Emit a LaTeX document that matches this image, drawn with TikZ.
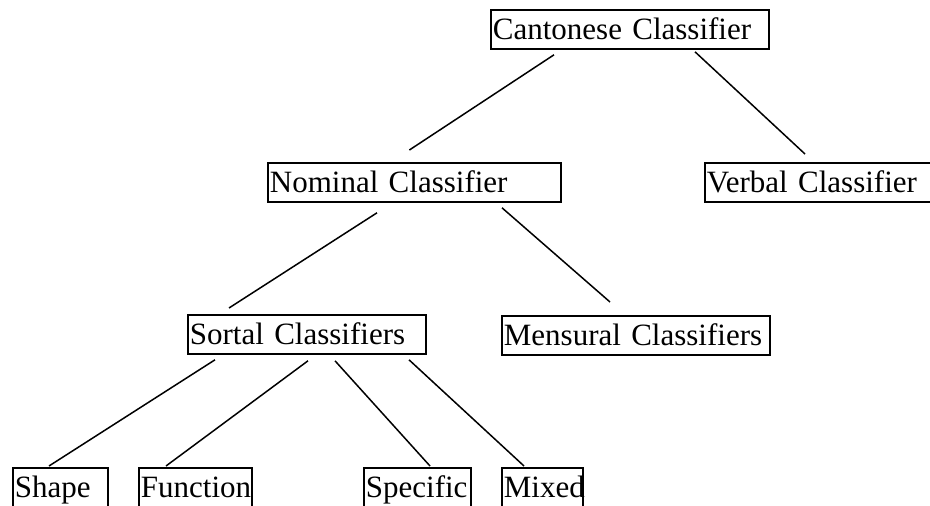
\documentclass[tikz,border=0pt]{standalone}
\usepackage{fontspec}
\setmainfont{Liberation Serif}
\usetikzlibrary{positioning, calc}

\begin{document}
\begin{tikzpicture}[x=1pt, y=-1pt, category/.style={draw, line width=1.8pt, anchor=north west, align=left, inner xsep=2pt, inner ysep=0pt, text height=30pt, text depth=9pt, font=\fontsize{31}{31}\selectfont}, link/.style={line width=1.5pt}]

\newcommand*{\catnode}[5][]{\node [category, #1, text width=#5pt] at (#3,#4) (#2)}

\useasboundingbox (0,0) rectangle (930,506);
\clip (0,0) rectangle (930,506);

% CATEGORIES

\catnode{can}{490}{9}{274}
{Cantonese Classifier};

\catnode{nom}{267}{162}{289}
{Nominal Classifier};

\catnode{verb}{704}{162}{232}
{Verbal Classifier};

\catnode{sort}{187}{314}{234}
{Sortal Classifiers};

\catnode{mens}{501}{315}{264}
{Mensural Classifiers};

\catnode[text depth=12pt]{shape}{12}{467}{91}
{Shape};

\catnode[text depth=12pt]{func}{138}{467}{109}
{Function};

\catnode[text depth=12pt]{spec}{363}{467}{103}
{Specific};

\catnode[text depth=12pt]{mixed}{501}{467}{77}
{Mixed};

% LINKS

\draw[link] ([xshift=64pt,yshift=-5pt]can.south west) -- ([xshift=-5pt,yshift=12pt]nom.north);
\draw[link] ([xshift=205pt,yshift=-2pt]can.south west) -- ([xshift=101pt,yshift=8pt]verb.north west);
\draw[link] ([xshift=110pt,yshift=-10pt]nom.south west) -- ([xshift=42pt,yshift=6pt]sort.north west);
\draw[link] ([xshift=235pt,yshift=-5pt]nom.south west) -- ([xshift=109pt,yshift=13pt]mens.north west);
\draw[link] ([xshift=28pt,yshift=-5pt]sort.south west) -- ([xshift=37pt,yshift=1pt]shape.north west);
\draw[link] ([xshift=121pt,yshift=-6pt]sort.south west) -- ([xshift=28pt,yshift=1pt]func.north west);
\draw[link] ([xshift=148pt,yshift=-6pt]sort.south west) -- ([xshift=67pt,yshift=1pt]spec.north west);
\draw[link] ([xshift=222pt,yshift=-5pt]sort.south west) -- ([xshift=23pt,yshift=1pt]mixed.north west);

\end{tikzpicture}
\end{document}
